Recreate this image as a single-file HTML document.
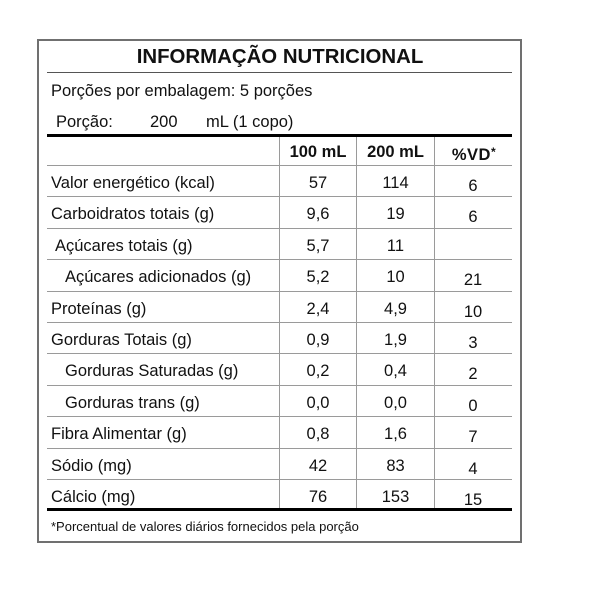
<!DOCTYPE html>
<html>
<head>
<meta charset="utf-8">
<style>
html,body{margin:0;padding:0;background:#fff;}
body{width:600px;height:600px;position:relative;overflow:hidden;font-family:"Liberation Sans",Arial,sans-serif;color:#111;}
.box{position:absolute;left:37px;top:39px;width:485px;height:504px;border:2px solid #707070;box-sizing:border-box;}
.h{position:absolute;left:47px;width:465px;height:1px;background:#9a9a9a;}
.v{position:absolute;top:137px;height:371px;width:1px;background:#9a9a9a;}
.t{position:absolute;font-size:16.5px;line-height:1;white-space:nowrap;}
.c{position:absolute;font-size:16.5px;line-height:1;white-space:nowrap;text-align:center;}
.b{font-weight:bold;}
</style>
</head>
<body>
<div class="box"></div>

<div class="t b" style="left:0;width:560px;text-align:center;top:47px;font-size:20.4px;">INFORMAÇÃO NUTRICIONAL</div>
<div class="h" style="top:72px;background:#555;"></div>

<div class="t" style="left:51px;top:83px;">Porções por embalagem: 5 porções</div>
<div class="t" style="left:56px;top:114px;">Porção:</div>
<div class="t" style="left:150px;top:114px;">200</div>
<div class="t" style="left:206px;top:114px;">mL (1 copo)</div>

<div class="h" style="top:134px;height:3px;background:#000;"></div>

<div class="v" style="left:279px;"></div>
<div class="v" style="left:356px;"></div>
<div class="v" style="left:434px;"></div>

<div class="c b" style="left:279px;width:78px;top:144px;">100 mL</div>
<div class="c b" style="left:357px;width:77px;top:144px;">200 mL</div>
<div class="c b" style="left:434px;width:80px;top:146px;letter-spacing:0.5px;">%VD<span style="font-size:12px;vertical-align:4px;">*</span></div>

<div class="h" style="top:165px;"></div>
<div class="h" style="top:196px;"></div>
<div class="h" style="top:228px;"></div>
<div class="h" style="top:259px;"></div>
<div class="h" style="top:291px;"></div>
<div class="h" style="top:322px;"></div>
<div class="h" style="top:353px;"></div>
<div class="h" style="top:385px;"></div>
<div class="h" style="top:416px;"></div>
<div class="h" style="top:448px;"></div>
<div class="h" style="top:479px;"></div>

<div class="h" style="top:508px;height:3px;background:#000;"></div>

<!-- rows -->
<div class="t" style="left:51px;top:175px;">Valor energético (kcal)</div>
<div class="c" style="left:279px;width:78px;top:175px;">57</div>
<div class="c" style="left:357px;width:77px;top:175px;">114</div>
<div class="c" style="left:434px;width:78px;top:178px;">6</div>

<div class="t" style="left:51px;top:206px;">Carboidratos totais (g)</div>
<div class="c" style="left:279px;width:78px;top:206px;">9,6</div>
<div class="c" style="left:357px;width:77px;top:206px;">19</div>
<div class="c" style="left:434px;width:78px;top:209px;">6</div>

<div class="t" style="left:55px;top:238px;">Açúcares totais (g)</div>
<div class="c" style="left:279px;width:78px;top:238px;">5,7</div>
<div class="c" style="left:357px;width:77px;top:238px;">11</div>

<div class="t" style="left:65px;top:269px;">Açúcares adicionados (g)</div>
<div class="c" style="left:279px;width:78px;top:269px;">5,2</div>
<div class="c" style="left:357px;width:77px;top:269px;">10</div>
<div class="c" style="left:434px;width:78px;top:272px;">21</div>

<div class="t" style="left:51px;top:301px;">Proteínas (g)</div>
<div class="c" style="left:279px;width:78px;top:301px;">2,4</div>
<div class="c" style="left:357px;width:77px;top:301px;">4,9</div>
<div class="c" style="left:434px;width:78px;top:304px;">10</div>

<div class="t" style="left:51px;top:332px;">Gorduras Totais (g)</div>
<div class="c" style="left:279px;width:78px;top:332px;">0,9</div>
<div class="c" style="left:357px;width:77px;top:332px;">1,9</div>
<div class="c" style="left:434px;width:78px;top:335px;">3</div>

<div class="t" style="left:65px;top:363px;">Gorduras Saturadas (g)</div>
<div class="c" style="left:279px;width:78px;top:363px;">0,2</div>
<div class="c" style="left:357px;width:77px;top:363px;">0,4</div>
<div class="c" style="left:434px;width:78px;top:366px;">2</div>

<div class="t" style="left:65px;top:395px;">Gorduras trans (g)</div>
<div class="c" style="left:279px;width:78px;top:395px;">0,0</div>
<div class="c" style="left:357px;width:77px;top:395px;">0,0</div>
<div class="c" style="left:434px;width:78px;top:398px;">0</div>

<div class="t" style="left:51px;top:426px;">Fibra Alimentar (g)</div>
<div class="c" style="left:279px;width:78px;top:426px;">0,8</div>
<div class="c" style="left:357px;width:77px;top:426px;">1,6</div>
<div class="c" style="left:434px;width:78px;top:429px;">7</div>

<div class="t" style="left:51px;top:458px;">Sódio (mg)</div>
<div class="c" style="left:279px;width:78px;top:458px;">42</div>
<div class="c" style="left:357px;width:77px;top:458px;">83</div>
<div class="c" style="left:434px;width:78px;top:461px;">4</div>

<div class="t" style="left:51px;top:489px;">Cálcio (mg)</div>
<div class="c" style="left:279px;width:78px;top:489px;">76</div>
<div class="c" style="left:357px;width:77px;top:489px;">153</div>
<div class="c" style="left:434px;width:78px;top:492px;">15</div>

<div class="t" style="left:51px;top:520px;font-size:13px;">*Porcentual de valores diários fornecidos pela porção</div>
</body>
</html>
